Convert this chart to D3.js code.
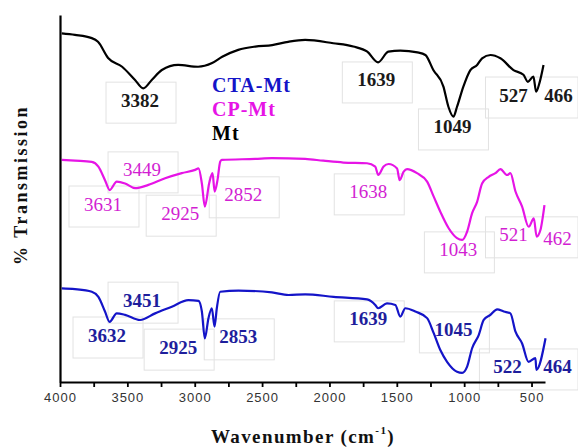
<!DOCTYPE html>
<html>
<head>
<meta charset="utf-8">
<script src="https://cdn.jsdelivr.net/npm/d3@7"></script>
<style>
  body { margin: 0; background: #fff; }
</style>
</head>
<body>
<svg id="chart" width="578" height="448"></svg>
<script>
// Mt spectrum (wavenumber, transmission)
var mtWn = [3987, 3889, 3764, 3718, 3643, 3539, 3443, 3382, 3319, 3244, 3123, 2975, 2871, 2796, 2677, 2551,
  2425, 2306, 2180, 1972, 1823, 1719, 1639, 1563, 1474, 1347, 1288, 1229, 1154, 1117, 1080, 1053, 1006, 954,
  904, 867, 805, 731, 634, 560, 527, 486, 466, 441, 411];
var mtT = [95.0, 94.6, 93.7, 92.7, 88.3, 85.9, 82.3, 80.0, 82.3, 85.0, 86.4, 85.9, 86.9, 88.6, 90.5, 91.4,
  91.8, 92.7, 93.2, 92.3, 91.4, 90.0, 87.1, 90.0, 90.3, 89.8, 89.1, 85.0, 80.5, 75.0, 72.3, 75.0, 80.5, 85.0,
  86.4, 88.2, 89.1, 88.2, 85.0, 83.7, 81.8, 83.2, 79.1, 81.5, 86.4];

// CP-Mt spectrum
var cpWn = [3987, 3889, 3764, 3715, 3666, 3631, 3579, 3517, 3443, 3344, 3220, 3096, 2997, 2972, 2947, 2925,
  2893, 2868, 2852, 2831, 2811, 2799, 2551, 2427, 2180, 2046, 1897, 1721, 1660, 1638, 1598, 1561, 1498, 1479,
  1449, 1424, 1350, 1275, 1226, 1177, 1115, 1053, 1015, 978, 941, 904, 867, 818, 768, 731, 681, 657, 619, 570,
  521, 483, 462, 434, 404];
var cpT = [60.5, 60.3, 60.0, 58.7, 55.0, 52.3, 54.6, 54.1, 52.8, 53.7, 55.5, 56.9, 57.8, 58.2, 54.1, 47.8,
  54.1, 56.9, 51.9, 55.0, 60.0, 60.5, 60.8, 61.0, 60.8, 60.3, 59.8, 59.6, 58.7, 56.4, 58.7, 59.4, 58.2, 55.0,
  57.3, 58.0, 56.9, 54.6, 50.5, 46.4, 41.9, 39.2, 38.7, 41.0, 46.0, 49.1, 54.1, 55.9, 56.9, 58.0, 56.4, 56.9,
  51.9, 47.8, 42.3, 44.6, 39.6, 41.4, 48.2];

// CTA-Mt spectrum
var ctaWn = [3987, 3889, 3764, 3715, 3666, 3632, 3579, 3517, 3406, 3294, 3170, 3047, 2972, 2947, 2925, 2898,
  2873, 2853, 2836, 2811, 2675, 2427, 2304, 2180, 1969, 1721, 1660, 1639, 1573, 1511, 1474, 1437, 1362, 1275,
  1226, 1177, 1127, 1053, 1015, 978, 941, 892, 855, 805, 755, 706, 657, 619, 570, 522, 471, 464, 396];
var ctaT = [25.5, 25.3, 24.6, 23.2, 19.2, 16.4, 18.7, 18.3, 16.9, 18.7, 20.5, 22.3, 22.1, 19.2, 11.9, 17.4,
  20.1, 15.1, 20.1, 24.6, 24.9, 24.4, 23.7, 23.9, 23.2, 22.5, 21.0, 20.1, 21.4, 21.0, 17.8, 20.1, 19.2, 17.4,
  13.3, 8.7, 5.5, 2.8, 2.5, 4.2, 9.2, 12.8, 16.9, 18.3, 19.8, 19.2, 18.7, 13.7, 10.5, 5.5, 6.5, 3.3, 11.9];

// peak labels: [text, wavenumber, transmission] of the label centre
var mtPeaks = [["3382", 3406, 76.8], ["1639", 1652, 82.3], ["1049", 1087, 69.5], ["527", 634, 78.2], ["466", 300, 78.2]];
var cpPeaks = [["3449", 3391, 57.8], ["3631", 3681, 48.5], ["2925", 3108, 46.0], ["2852", 2640, 51.0],
  ["1638", 1712, 51.8], ["1043", 1043, 36.0], ["521", 634, 40.1], ["462", 307, 39.2]];
var ctaPeaks = [["3451", 3391, 22.3], ["3632", 3651, 12.8], ["2925", 3123, 9.5], ["2853", 2677, 12.3],
  ["1639", 1712, 17.2], ["1045", 1080, 14.2], ["522", 679, 4.1], ["464", 307, 4.1]];

var legendNames = ["CTA-Mt", "CP-Mt", "Mt"];
var xTicks = d3.range(4000, 499, -250);

var serif = "'Liberation Serif', 'Times New Roman', serif";
var svg = d3.select("#chart");

var x = d3.scaleLinear().domain([4000, 400]).range([60, 545]);
var y = d3.scaleLinear().domain([0, 100]).range([382, 15]);

var series = [
  { name: "CTA-Mt", wn: ctaWn, t: ctaT, peaks: ctaPeaks, color: "#1414c8", labelColor: "#1e1e9c", weight: "bold" },
  { name: "CP-Mt", wn: cpWn, t: cpT, peaks: cpPeaks, color: "#e614e6", labelColor: "#d21ed2", weight: "normal" },
  { name: "Mt", wn: mtWn, t: mtT, peaks: mtPeaks, color: "#000000", labelColor: "#1a1a1a", weight: "bold" }
];

// label boxes first, so the curves sit on top
var boxes = svg.append("g");
series.forEach(function(s) {
  s.peaks.forEach(function(p, i) {
    if (p[0].length < 4 && i === s.peaks.length - 1) return; // trailing label shares the box
    var cx = x(p[1]), cy = y(p[2]);
    var short = p[0].length < 4;
    boxes.append("rect")
      .attr("x", short ? cx - 28 : cx - 34)
      .attr("y", cy - 18)
      .attr("width", short ? 578 - (cx - 28) : 70)
      .attr("height", 41)
      .attr("fill", "none")
      .attr("stroke", "#e2e2e2")
      .attr("stroke-width", 1);
  });
});

var line = d3.line()
  .x(function(d) { return x(d[0]); })
  .y(function(d) { return y(d[1]); })
  .curve(d3.curveMonotoneX);

series.forEach(function(s) {
  svg.append("path")
    .datum(d3.zip(s.wn, s.t))
    .attr("fill", "none")
    .attr("stroke", s.color)
    .attr("stroke-width", 2.2)
    .attr("stroke-linejoin", "round")
    .attr("d", line);
});

// peak labels
series.forEach(function(s) {
  svg.append("g").selectAll("text")
    .data(s.peaks)
    .enter().append("text")
    .attr("x", function(d) { return x(d[1]); })
    .attr("y", function(d) { return y(d[2]); })
    .attr("text-anchor", "middle")
    .attr("dominant-baseline", "central")
    .attr("font-family", serif)
    .attr("font-size", 19)
    .attr("font-weight", s.weight)
    .attr("fill", s.labelColor)
    .text(function(d) { return d[0]; });
});

// axes
var xAxis = svg.append("g")
  .attr("transform", "translate(0,382)")
  .call(d3.axisBottom(x).tickValues(xTicks).tickSize(5).tickSizeOuter(0)
    .tickFormat(function(d) { return d % 500 === 0 ? d : ""; }));
xAxis.select(".domain").attr("stroke-width", 2.2);
xAxis.selectAll(".tick line").attr("stroke-width", 1.8);
xAxis.selectAll(".tick text")
  .attr("font-family", "'Liberation Sans', Arial, sans-serif")
  .attr("font-size", 13)
  .attr("letter-spacing", 1)
  .attr("fill", "#333")
  .attr("dy", "0.95em");

var yAxis = svg.append("g")
  .attr("transform", "translate(60,0)")
  .call(d3.axisLeft(y).tickValues([]).tickSizeOuter(0));
yAxis.select(".domain").attr("stroke-width", 2.2);

// legend
svg.append("g").selectAll("text")
  .data(legendNames)
  .enter().append("text")
  .attr("x", 212)
  .attr("y", function(d, i) { return 92 + i * 24; })
  .attr("font-family", serif)
  .attr("font-size", 20)
  .attr("font-weight", "bold")
  .attr("letter-spacing", 1)
  .attr("fill", function(d, i) { return series[i].color; })
  .text(function(d) { return d; });

// axis titles
var xt = svg.append("text")
  .attr("x", 303)
  .attr("y", 443)
  .attr("text-anchor", "middle")
  .attr("font-family", serif)
  .attr("font-size", 19)
  .attr("font-weight", "bold")
  .attr("letter-spacing", 1.4)
  .attr("fill", "#111");
xt.append("tspan").text("Wavenumber (cm");
xt.append("tspan").attr("font-size", 11).attr("dy", -9).text("-1");
xt.append("tspan").attr("dy", 9).text(")");

svg.append("text")
  .attr("transform", "translate(27,185) rotate(-90)")
  .attr("text-anchor", "middle")
  .attr("font-family", serif)
  .attr("font-size", 18)
  .attr("font-weight", "bold")
  .attr("letter-spacing", 2.5)
  .attr("fill", "#111")
  .text("% Transmission");
</script>
</body>
</html>
